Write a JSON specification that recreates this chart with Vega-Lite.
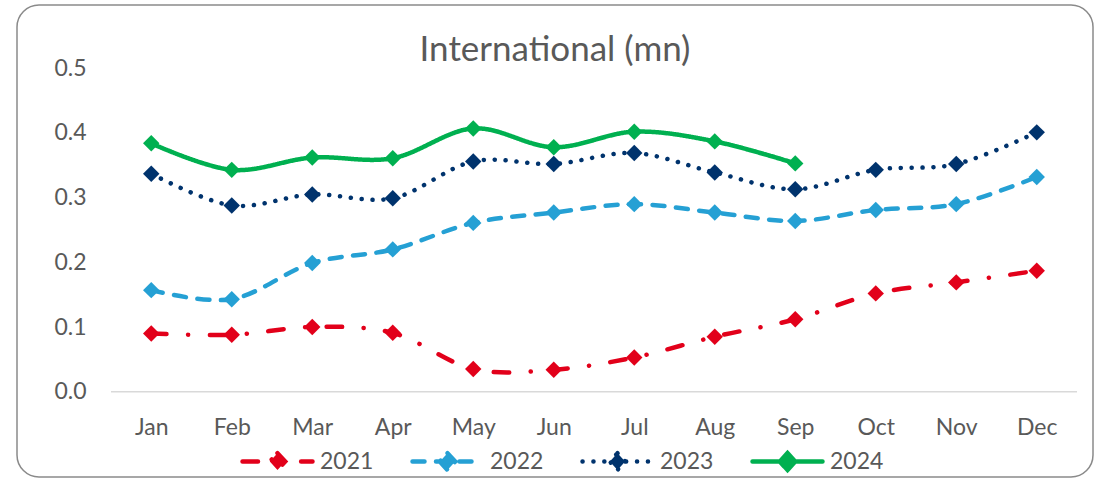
{
  "$schema": "https://vega.github.io/schema/vega-lite/v6.json",
  "width": 1076,
  "height": 472,
  "autosize": {"type": "none"},
  "padding": {"left": 17, "top": 5, "right": 4, "bottom": 1},
  "background": "#ffffff",
  "config": {
    "font": "Lato",
    "view": {"stroke": "#8a8a8a", "strokeWidth": 1.5, "cornerRadius": 22, "fill": "#ffffff"},
    "axis": {
      "title": null,
      "domain": false,
      "grid": false,
      "ticks": false,
      "tickSize": 0,
      "labelFont": "Lato",
      "labelFontSize": 23,
      "labelColor": "#595959",
      "labelFlush": false,
      "labelOverlap": false
    }
  },
  "title": {
    "text": "International (mn)",
    "font": "Lato",
    "fontSize": 35,
    "fontWeight": "normal",
    "color": "#595959",
    "anchor": "middle",
    "frame": "group",
    "offset": -63
  },
  "layer": [
    {
      "data": {"values": [{"baseline": 0}]},
      "mark": {"type": "rule", "color": "#d9d9d9", "strokeWidth": 1.5},
      "encoding": {
        "x": {
          "datum": 0.5,
          "type": "quantitative",
          "scale": {"domain": [-0.6677, 12.6988], "nice": false, "zero": false},
          "axis": {
            "title": null,
            "values": [1, 2, 3, 4, 5, 6, 7, 8, 9, 10, 11, 12],
            "labelExpr": "['Jan','Feb','Mar','Apr','May','Jun','Jul','Aug','Sep','Oct','Nov','Dec'][datum.value - 1]",
            "labelPadding": -50,
            "labelBaseline": "middle"
          }
        },
        "x2": {"datum": 12.5},
        "y": {
          "field": "baseline",
          "type": "quantitative",
          "scale": {"domain": [-0.1319, 0.5979], "nice": false, "zero": false},
          "axis": {
            "title": null,
            "values": [0, 0.1, 0.2, 0.3, 0.4, 0.5],
            "format": ".1f",
            "labelPadding": -69
          }
        }
      }
    },
    {
      "data": {
        "values": [
          {"year": "2021", "m": 1, "v": 0.090}, {"year": "2021", "m": 2, "v": 0.088}, {"year": "2021", "m": 3, "v": 0.100},
          {"year": "2021", "m": 4, "v": 0.091}, {"year": "2021", "m": 5, "v": 0.035}, {"year": "2021", "m": 6, "v": 0.034},
          {"year": "2021", "m": 7, "v": 0.053}, {"year": "2021", "m": 8, "v": 0.085}, {"year": "2021", "m": 9, "v": 0.112},
          {"year": "2021", "m": 10, "v": 0.152}, {"year": "2021", "m": 11, "v": 0.169}, {"year": "2021", "m": 12, "v": 0.187},
          {"year": "2022", "m": 1, "v": 0.157}, {"year": "2022", "m": 2, "v": 0.143}, {"year": "2022", "m": 3, "v": 0.199},
          {"year": "2022", "m": 4, "v": 0.220}, {"year": "2022", "m": 5, "v": 0.261}, {"year": "2022", "m": 6, "v": 0.277},
          {"year": "2022", "m": 7, "v": 0.290}, {"year": "2022", "m": 8, "v": 0.277}, {"year": "2022", "m": 9, "v": 0.264},
          {"year": "2022", "m": 10, "v": 0.281}, {"year": "2022", "m": 11, "v": 0.290}, {"year": "2022", "m": 12, "v": 0.332},
          {"year": "2023", "m": 1, "v": 0.337}, {"year": "2023", "m": 2, "v": 0.288}, {"year": "2023", "m": 3, "v": 0.305},
          {"year": "2023", "m": 4, "v": 0.299}, {"year": "2023", "m": 5, "v": 0.356}, {"year": "2023", "m": 6, "v": 0.352},
          {"year": "2023", "m": 7, "v": 0.369}, {"year": "2023", "m": 8, "v": 0.339}, {"year": "2023", "m": 9, "v": 0.313},
          {"year": "2023", "m": 10, "v": 0.343}, {"year": "2023", "m": 11, "v": 0.352}, {"year": "2023", "m": 12, "v": 0.401},
          {"year": "2024", "m": 1, "v": 0.384}, {"year": "2024", "m": 2, "v": 0.343}, {"year": "2024", "m": 3, "v": 0.362},
          {"year": "2024", "m": 4, "v": 0.361}, {"year": "2024", "m": 5, "v": 0.407}, {"year": "2024", "m": 6, "v": 0.378},
          {"year": "2024", "m": 7, "v": 0.402}, {"year": "2024", "m": 8, "v": 0.387}, {"year": "2024", "m": 9, "v": 0.353}
        ]
      },
      "encoding": {
        "x": {
          "field": "m",
          "type": "quantitative",
          "scale": {"domain": [-0.6677, 12.6988], "nice": false, "zero": false},
          "axis": {
            "title": null,
            "values": [1, 2, 3, 4, 5, 6, 7, 8, 9, 10, 11, 12],
            "labelExpr": "['Jan','Feb','Mar','Apr','May','Jun','Jul','Aug','Sep','Oct','Nov','Dec'][datum.value - 1]",
            "labelPadding": -50,
            "labelBaseline": "middle"
          }
        },
        "y": {
          "field": "v",
          "type": "quantitative",
          "scale": {"domain": [-0.1319, 0.5979], "nice": false, "zero": false},
          "axis": {
            "title": null,
            "values": [0, 0.1, 0.2, 0.3, 0.4, 0.5],
            "format": ".1f",
            "labelPadding": -69
          }
        },
        "color": {
          "field": "year",
          "type": "nominal",
          "scale": {"domain": ["2021", "2022", "2023", "2024"], "range": ["#e2001a", "#25a0d4", "#00336d", "#00b050"]},
          "legend": {
            "title": null,
            "orient": "none",
            "legendX": 223,
            "legendY": 419,
            "direction": "horizontal",
            "columns": 4,
            "padding": 0,
            "columnPadding": 29,
            "symbolType": "M-1,0L1,0M0,-0.24L0.22,0L0,0.24L-0.22,0Z",
            "symbolSize": 4900,
            "symbolStrokeWidth": 4.5,
            "labelFont": "Lato",
            "labelFontSize": 23,
            "labelColor": "#595959",
            "labelOffset": 5,
            "encode": {
              "symbols": {
                "update": {
                  "fill": {"scale": "color", "field": "value"},
                  "stroke": {"scale": "color", "field": "value"},
                  "strokeCap": {"value": "round"},
                  "opacity": {"value": 1}
                }
              }
            }
          }
        }
      },
      "layer": [
        {
          "mark": {"type": "line", "interpolate": "cardinal", "strokeWidth": 4.5, "strokeCap": "round", "strokeJoin": "round"},
          "encoding": {
            "strokeDash": {
              "field": "year",
              "type": "nominal",
              "scale": {"domain": ["2021", "2022", "2023", "2024"], "range": [[15.5, 21.5, 0.1, 21.5], [12, 11.5], [0.1, 10.8], [1, 0]]},
              "legend": {
                "title": null,
                "orient": "none",
                "legendX": 223,
                "legendY": 419,
                "direction": "horizontal",
                "columns": 4,
                "padding": 0,
                "columnPadding": 29,
                "symbolType": "M-1,0L1,0M0,-0.24L0.22,0L0,0.24L-0.22,0Z",
                "symbolSize": 4900,
                "symbolStrokeWidth": 4.5,
                "labelFont": "Lato",
                "labelFontSize": 23,
                "labelColor": "#595959",
                "labelOffset": 5
              }
            }
          }
        },
        {
          "mark": {"type": "point", "shape": "diamond", "filled": true, "size": 270, "opacity": 1}
        }
      ]
    }
  ]
}
